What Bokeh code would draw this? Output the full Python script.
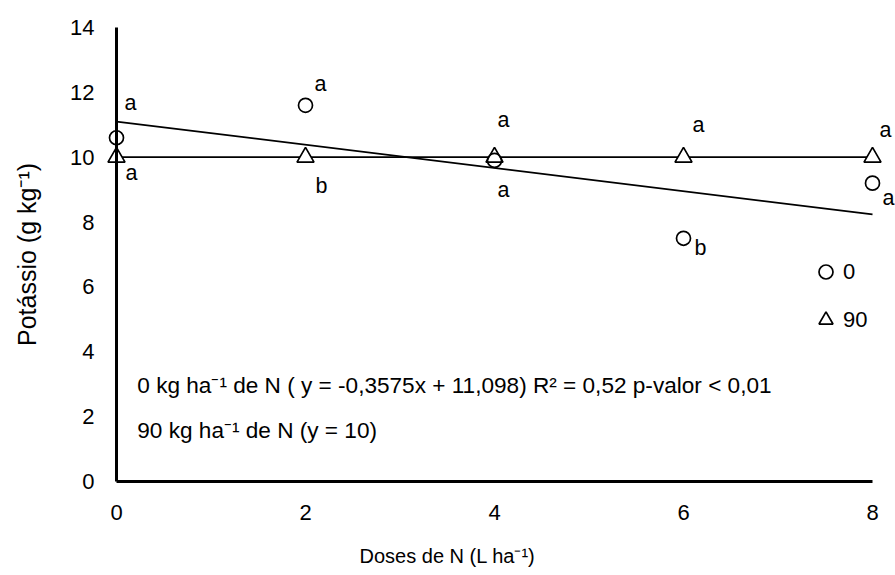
from bokeh.plotting import figure
from bokeh.models import Range1d, ColumnDataSource, LabelSet, Legend, LegendItem, Label
from bokeh.embed import file_html
from bokeh.resources import INLINE
from bokeh.core.properties import value

# ---- data ----
doses = [0, 2, 4, 6, 8]
k_0N = [10.6, 11.6, 9.9, 7.5, 9.2]       # 0 kg ha-1 de N (circles)
k_90N = [10.0, 10.0, 10.0, 10.0, 10.0]   # 90 kg ha-1 de N (triangles)
letters_0N = ["a", "a", "a", "b", "a"]
letters_90N = ["a", "b", "a", "a", "a"]
slope_0N = -0.3575
intercept_0N = 11.098
const_90N = 10
x_ticks = [0, 2, 4, 6, 8]
y_ticks = [0, 2, 4, 6, 8, 10, 12, 14]
x_title = "Doses de N (L ha\u207b\u00b9)"
y_title = "Pot\u00e1ssio (g kg\u207b\u00b9)"

# label offsets (screen px) - layout only
off_0N_x = [14, 15, 9, 17, 16]
off_0N_y = [35, 21, -30, -10, -15]
off_90N_x = [15, 16, 9, 15, 13]
off_90N_y = [-16, -29, 37, 32, 27]

FONT = "Liberation Sans"
FS = "21.5px"

W, H = 895, 575
X0PX, XSC = 116.0, 94.5     # pixel of x=0, px per unit
Y0PX, YSC = 481.0, 32.43    # pixel of y=0, px per unit

p = figure(width=W, height=H, output_backend="svg", toolbar_location=None,
           x_range=Range1d(-X0PX / XSC, (W - X0PX) / XSC),
           y_range=Range1d(-(H - Y0PX) / YSC, Y0PX / YSC),
           min_border=0)
p.outline_line_color = None
p.grid.visible = False
p.background_fill_color = "white"

for ax, bounds, ticks in ((p.xaxis[0], (0, 8), x_ticks), (p.yaxis[0], (0, 14), y_ticks)):
    ax.fixed_location = 0
    ax.bounds = bounds
    ax.ticker = ticks
    ax.axis_line_width = 3
    ax.axis_line_color = "black"
    ax.major_tick_line_color = None
    ax.minor_tick_line_color = None
    ax.major_label_text_font = FONT
    ax.major_label_text_font_size = "22px"
    ax.major_label_text_color = "black"
    ax.axis_label_text_font = FONT
    ax.axis_label_text_font_style = "normal"
    ax.axis_label_text_color = "black"

p.xaxis.major_label_standoff = 17
p.yaxis.axis_label = y_title
p.yaxis.axis_label_text_font_size = "25px"
p.yaxis.major_label_standoff = 16
p.yaxis.axis_label_standoff = 26

# x-axis title (offset left of centre in the original)
p.add_layout(Label(x=447, y=20, x_units="screen", y_units="screen", text=x_title,
                   text_align="center", text_baseline="middle", text_font=FONT,
                   text_font_size="20px", text_color="black"))

# fitted lines
fx = [doses[0], doses[-1]]
p.line(fx, [intercept_0N + slope_0N * v for v in fx], line_color="black", line_width=1.7)
p.line(fx, [const_90N for v in fx], line_color="black", line_width=1.7)

src = ColumnDataSource(dict(x=doses, y0=k_0N, y90=k_90N, l0=letters_0N, l90=letters_90N,
                            ox0=off_0N_x, oy0=off_0N_y, ox90=off_90N_x, oy90=off_90N_y))
r90 = p.scatter("x", "y90", source=src, marker="triangle", size=17, fill_color="white",
                line_color="black", line_width=1.7)
r0 = p.scatter("x", "y0", source=src, marker="circle", size=14, fill_color=None,
               line_color="black", line_width=1.7)

for lab, ox, oy in (("l0", "ox0", "oy0"), ("l90", "ox90", "oy90")):
    yy = "y0" if lab == "l0" else "y90"
    p.add_layout(LabelSet(x="x", y=yy, text=lab, x_offset=ox, y_offset=oy, source=src,
                          text_align="center", text_baseline="middle",
                          text_font=value(FONT), text_font_size=value(FS), text_color="black"))

legend = Legend(items=[LegendItem(label="0", renderers=[r0]), LegendItem(label="90", renderers=[r90])],
                location=(808, 238), orientation="vertical", background_fill_alpha=0,
                border_line_color=None, padding=0, margin=0, spacing=13,
                glyph_width=35, glyph_height=35, label_standoff=-9,
                label_text_font=FONT, label_text_font_size="22px", label_text_color="black",
                label_text_baseline="middle")
p.add_layout(legend, "center")

eq1 = "0 kg ha\u207b\u00b9 de N ( y = -0,3575x + 11,098) R\u00b2 = 0,52 p-valor < 0,01"
eq2 = "90 kg ha\u207b\u00b9 de N (y = 10)"
p.add_layout(Label(x=0.22, y=2.96, text=eq1, text_baseline="middle", text_font=FONT,
                   text_font_size="22.6px", text_color="black"))
p.add_layout(Label(x=0.22, y=1.57, text=eq2, text_baseline="middle", text_font=FONT,
                   text_font_size="22.6px", text_color="black"))

open("out.html", "w").write(file_html(p, INLINE))
